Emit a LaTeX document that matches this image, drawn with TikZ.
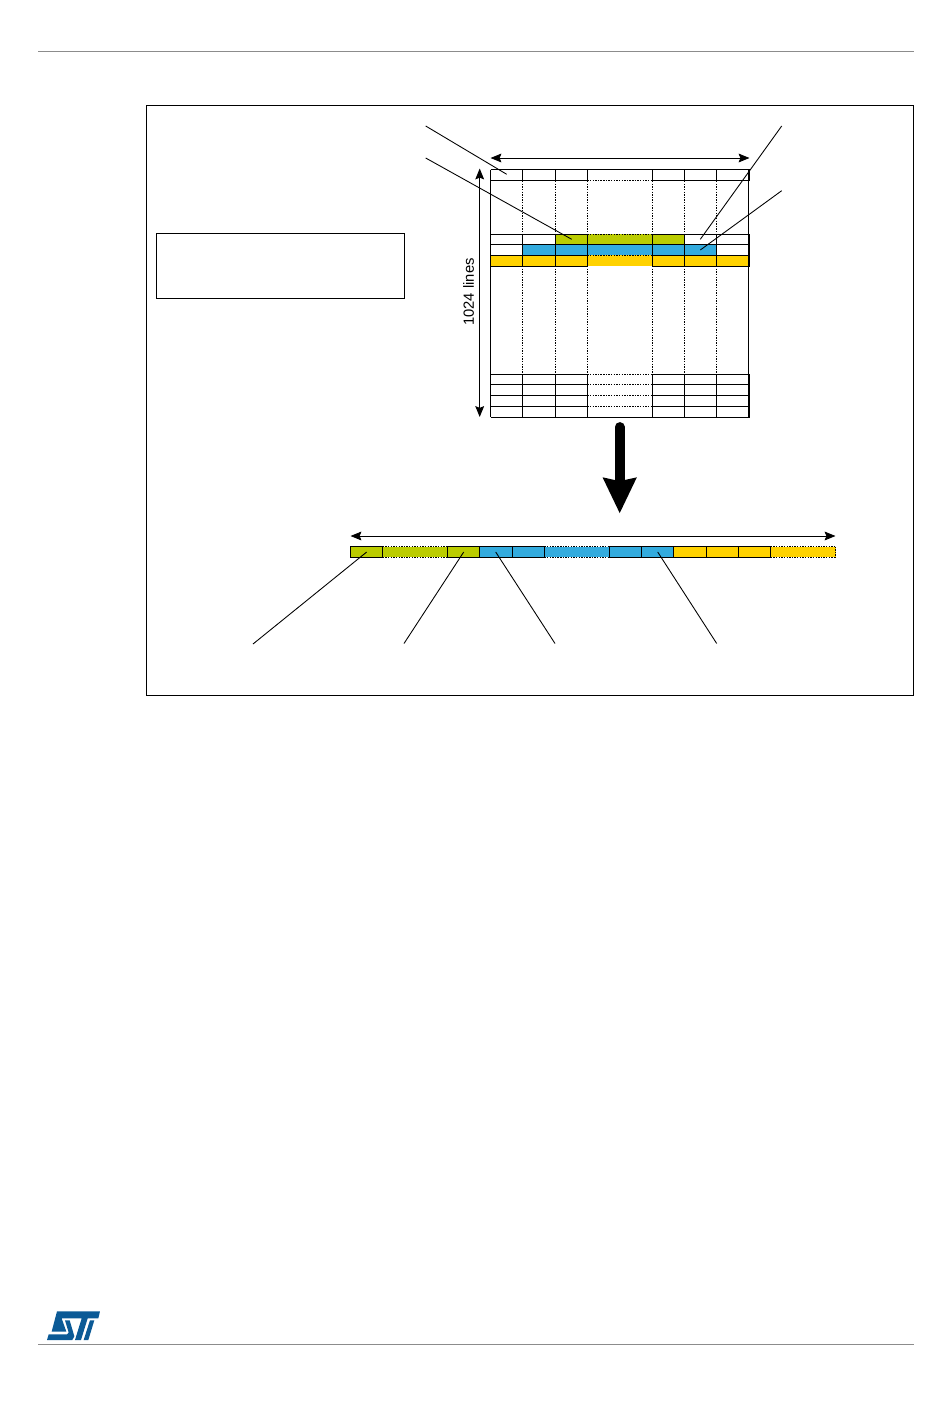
\documentclass[tikz,border=0pt]{standalone}
\usepackage{fontspec}
\setmainfont{Liberation Sans}
\usepackage{xcolor}
\usetikzlibrary{arrows.meta, positioning}
\definecolor{stgreen}{HTML}{BBCC00}
\definecolor{stblue}{HTML}{33ABDE}
\definecolor{styellow}{HTML}{FFD200}
\definecolor{stlogo}{HTML}{0B5A96}
\definecolor{pagerule}{HTML}{8C8C8C}

\begin{document}
\begin{tikzpicture}[
  x=0.02cm, y=-0.02cm,
  gridline/.style={line width=0.65pt},
  dotline/.style={line width=0.6pt, dash pattern=on 0.8pt off 0.7pt},
  leader/.style={line width=0.5pt},
  dimarrow/.style={line width=0.55pt, {Stealth[length=6.2pt, width=5pt, inset=1pt]}-{Stealth[length=6.2pt, width=5pt, inset=1pt]}},
]
\useasboundingbox (0,0) rectangle (950,1420);

% page rules and frame
\coordinate (headL) at (38,51.5);
\coordinate (headR) at (914,51.5);
\coordinate (footL) at (38,1344.5);
\coordinate (footR) at (914,1344.5);
\draw[pagerule, line width=0.6pt] (headL) -- (headR);
\draw[pagerule, line width=0.9pt] (footL) -- (footR);
\draw[line width=0.5pt] (146,105) rectangle (913.5,695.5);
\draw[line width=0.5pt] (156.5,233.5) rectangle (404.5,298);

% colour rows of the frame
\fill[stgreen] (555,234.3) rectangle (684.3,244.3);
\fill[stblue] (522.5,244.3) rectangle (716.3,255.3);
\fill[styellow] (490.7,255.3) rectangle (748.5,266.3);

% vertical lines
\foreach \x in {522.5,555.3,587.3,652.3,684.3,716.3} {
  \draw[dotline] (\x,181) -- (\x,234);
  \draw[dotline] (\x,266) -- (\x,374);
  \foreach \a/\b in {169.5/180.5,234.3/266.3,374.3/417.3}
    \draw[gridline] (\x,\a) -- (\x,\b);
}
\draw[gridline] (490.7,169.5) -- (490.7,417.3);
\draw[gridline] (748.4,169.5) -- (748.4,417.3);
\foreach \a/\b in {169.5/180.5,234.3/266.3,374.3/417.3}
  \draw[gridline] (749.3,\a) -- (749.3,\b);

% horizontal lines
\foreach \y in {169.5,417.3}
  \draw[gridline] (490.7,\y) -- (749.5,\y);
\foreach \y in {244.3}
  \draw[gridline] (587.3,\y) -- (652.3,\y);
\foreach \y in {180.5,234.3,244.3,255.3,266.3,374.3,384.3,395.3,406.3} {
  \draw[gridline] (490.7,\y) -- (587.3,\y);
  \draw[gridline] (652.3,\y) -- (749.5,\y);
}
\foreach \y in {180.5,234.3,255.3,374.3,384.3,395.3,406.3}
  \draw[dotline] (587.3,\y) -- (652.3,\y);

% the long row
\fill[stgreen] (350.3,546.5) rectangle (479.3,557.3);
\fill[stblue] (479.3,546.5) rectangle (673.3,557.3);
\fill[styellow] (673.3,546.5) rectangle (835.7,557.3);
\foreach \a/\b in {350.3/382.7,447.3/479.3,479.3/512.7,512.7/544.3,609.3/641.7,641.7/673.3,673.3/706.7,706.7/738.7,738.7/770.7}
  \draw[gridline] (\a,546.5) rectangle (\b,557.3);
\foreach \a/\b in {382.7/447.3,544.3/609.3,770.7/835.7} {
  \draw[dotline] (\a,546.5) -- (\b,546.5);
  \draw[dotline] (\a,557.3) -- (\b,557.3);
}
\draw[dotline] (835.7,546.5) -- (835.7,557.3);

% dimension arrows
\coordinate (widthL) at (490.5,158);
\coordinate (widthR) at (749.5,158);
\coordinate (linesT) at (479.7,168.5);
\coordinate (linesB) at (479.7,417);
\coordinate (longL) at (350.5,536);
\coordinate (longR) at (835.5,536);
\draw[dimarrow] (widthL) -- (widthR);
\draw[dimarrow] (linesT) -- (linesB);
\draw[dimarrow] (longL) -- (longR);
\node[rotate=90, inner sep=0pt, font=\fontsize{8.4}{10}\selectfont] (lineslabel) at (468.5,292) {1024 lines};

% big arrow
\coordinate (bigT) at (619.7,427);
\coordinate (bigB) at (619.7,513.5);
\draw[line width=5.6pt, line cap=round, -{Stealth[length=20pt, width=18.2pt, inset=1.6pt]}] (bigT) -- (bigB);

% leaders
\coordinate (tagA) at (425.7,126);
\coordinate (cellA) at (506.7,174.3);
\coordinate (tagB) at (425.7,158);
\coordinate (cellB) at (571.7,239.3);
\coordinate (tagC) at (781.7,126);
\coordinate (cellC) at (700.3,239.3);
\coordinate (tagD) at (781.7,190.7);
\coordinate (cellD) at (700.3,250);
\coordinate (tagE) at (253,644);
\coordinate (cellE) at (366.7,552);
\coordinate (tagF) at (404,643.5);
\coordinate (cellF) at (463.7,552);
\coordinate (tagG) at (555,643.5);
\coordinate (cellG) at (495.7,552);
\coordinate (tagH) at (716.7,643.5);
\coordinate (cellH) at (657.7,552);
\foreach \a/\b in {tagA/cellA,tagB/cellB,tagC/cellC,tagD/cellD,tagE/cellE,tagF/cellF,tagG/cellG,tagH/cellH}
  \draw[leader] (\a) -- (\b);

% logo
\begin{scope}[shift={(45,1309)}, x=0.00667cm, y=-0.0094cm]
\fill[stlogo] (36,5) -- (165,5) -- (160,20) -- (128,20) -- (108,66) -- (90,66) -- (110,20) -- (50,20) -- (64,48) -- (20,48) -- cycle;
\fill[stlogo] (60,24) -- (74,24) -- (88,58) -- (82,66) -- (6,66) -- (11,54) -- (66,54) -- (71,50) -- cycle;
\fill[stlogo] (135,24) -- (148,24) -- (130,66) -- (116,66) -- cycle;
\end{scope}
\end{tikzpicture}
\end{document}
